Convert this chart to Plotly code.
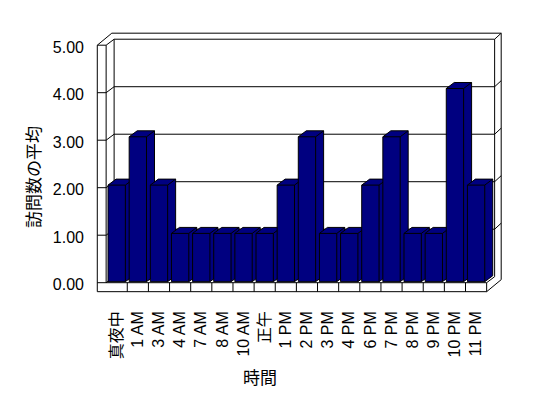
import plotly.graph_objects as go

categories = ["真夜中", "1 AM", "3 AM", "4 AM", "7 AM", "8 AM", "10 AM", "正午", "1 PM",
              "2 PM", "3 PM", "4 PM", "6 PM", "7 PM", "8 PM", "9 PM", "10 PM", "11 PM"]
values = [2, 3, 2, 1, 1, 1, 1, 1, 2, 3, 1, 1, 2, 3, 1, 1, 4, 2]
y_tick_vals = [0, 1, 2, 3, 4, 5]
y_tick_text = ["0.00", "1.00", "2.00", "3.00", "4.00", "5.00"]
x_title = "時間"
y_title = "訪問数の平均"

W, H = 548, 398
ML, MR, MT, MB = 90, 38, 30, 103
BAR_COLOR = "#000080"

# projection parameters (axis units)
DX = 0.378      # depth offset, x units
DY = 0.126      # depth offset, y units (wall axis)
DY2 = 0.124     # depth offset, y2 units (bar axis)
TX, TY = 0.31, 0.127   # back wall thickness
HALF = 0.41     # half width of a bar front face
FLOOR = -0.189  # floor thickness (y units)
OUT_L = -0.918  # outer left edge of side wall

n = len(categories)
xr = [-1.2630, 18.6045]
yr = [-0.25895, 5.32]
y2r = [-0.27536, 5.2112]

fig = go.Figure()

# bars, drawn left to right so each front face hides the previous side face
for i, v in enumerate(values):
    L, R = i - HALF, i + HALF
    xs = [L, L, L + DX, R + DX, R + DX, R, L, None, L, R, R, None, R, R + DX]
    ys = [0, v, v + DY2, v + DY2, DY2, 0, 0, None, v, v, 0, None, v, v + DY2]
    fig.add_trace(go.Scatter(
        x=xs, y=ys, yaxis="y2", mode="lines", fill="toself",
        fillcolor=BAR_COLOR, line=dict(color="black", width=1),
        hoverinfo="skip", showlegend=False))

shapes = []
def path(pts, close=False, fill=None):
    d = "M " + " L ".join(f"{x},{y}" for x, y in pts)
    if close:
        d += " Z"
    s = dict(type="path", path=d, xref="x", yref="y", layer="below",
             line=dict(color="black", width=1))
    if fill:
        s["fillcolor"] = fill
    shapes.append(s)

top = y_tick_vals[-1]
xl_in = -0.5
xr_in = n - 0.5
# outer silhouette
path([(OUT_L, FLOOR), (OUT_L, top), (xl_in + DX + TX - 0.42, top + DY + TY),
      (xr_in + DX + TX, top + DY + TY), (xr_in + DX + TX, FLOOR + DY + TY),
      (xr_in, FLOOR)], close=True, fill="white")
# back wall inner face
path([(xl_in + DX, DY), (xl_in + DX, top + DY), (xr_in + DX, top + DY), (xr_in + DX, DY)])
path([(xr_in + DX, top + DY), (xr_in + DX + TX, top + DY + TY)])
# side wall inner edge and floor top front edge
path([(xl_in, top), (xl_in, 0), (xr_in, 0), (xr_in + DX, DY)])
path([(xr_in, 0), (xr_in, FLOOR)])
# gridlines / ticks
for v in y_tick_vals:
    if v in (0, top):
        path([(OUT_L, v), (xl_in, v), (xl_in + DX, v + DY)])
    else:
        path([(OUT_L, v), (xl_in, v), (xl_in + DX, v + DY), (xr_in + DX, v + DY),
              (xr_in + DX + TX, v + DY + TY)])
# category dividers on floor front face
for k in range(n - 1):
    path([(k + 0.5, 0), (k + 0.5, FLOOR)])

font = dict(family="Liberation Sans, Arial, Noto Sans CJK JP", size=16, color="black")
title_font = dict(family="Noto Sans CJK JP", size=17, color="black")

fig.update_layout(
    width=W, height=H,
    margin=dict(l=ML, r=MR, t=MT, b=MB, pad=0),
    paper_bgcolor="white", plot_bgcolor="rgba(0,0,0,0)",
    showlegend=False,
    shapes=shapes,
    xaxis=dict(range=xr, tickmode="array", tickvals=list(range(n)), ticktext=categories,
               tickangle=-90, showgrid=False, zeroline=False, showline=False, ticks="",
               tickfont=font, ticklabelstandoff=12, fixedrange=True),
    yaxis=dict(range=yr, tickmode="array", tickvals=y_tick_vals, ticktext=y_tick_text,
               showgrid=False, zeroline=False, showline=False, ticks="",
               tickfont=font, ticklabelstandoff=5, ticklabelshift=2, fixedrange=True),
    yaxis2=dict(range=y2r, overlaying="y", showgrid=False, zeroline=False,
                showline=False, showticklabels=False, ticks="", fixedrange=True),
    annotations=[
        dict(text=y_title, xref="paper", yref="paper", x=(32 - ML) / (W - ML - MR),
             y=(H - MB - 177) / (H - MT - MB), textangle=-90, showarrow=False,
             xanchor="center", yanchor="middle", font=title_font),
        dict(text=x_title, xref="paper", yref="paper", x=(260 - ML) / (W - ML - MR),
             y=(H - MB - 376) / (H - MT - MB), showarrow=False,
             xanchor="center", yanchor="middle", font=title_font),
    ],
)

fig.write_html("out.html")
